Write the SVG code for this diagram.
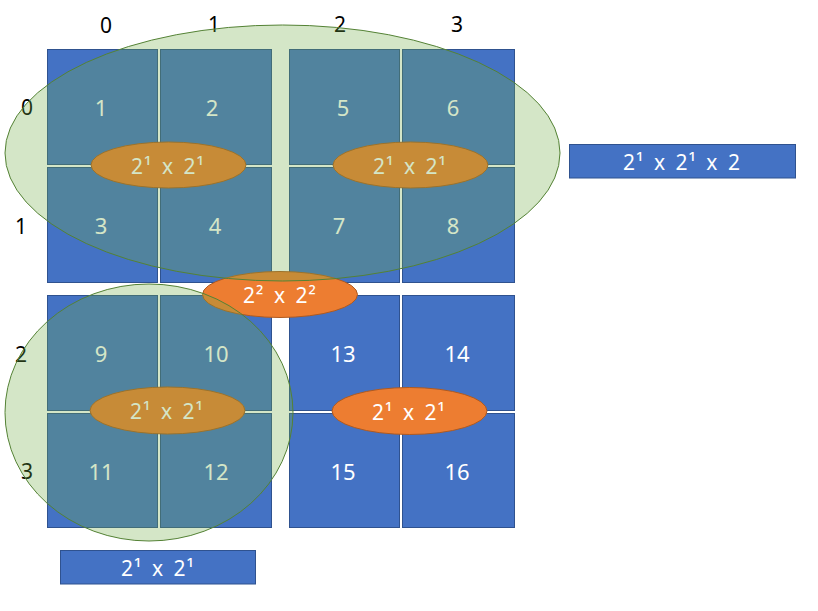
<svg xmlns="http://www.w3.org/2000/svg" width="818" height="611" viewBox="0 0 818 611">
<style>
.sq{fill:#4472C4;stroke:#2F528F;stroke-width:1}
.num{font-family:"Noto Sans","Liberation Sans",sans-serif;font-size:22px;fill:#FFFFFF;text-anchor:middle;dominant-baseline:central}
.ax{font-family:"Noto Sans","Liberation Sans",sans-serif;font-size:21px;fill:#000000;text-anchor:middle;dominant-baseline:central}
.org{fill:#ED7D31;stroke:#AE5A21;stroke-width:1}
.grn{fill:#70AD47;fill-opacity:0.3;stroke:#548235;stroke-width:1}
.lbl{font-family:"Noto Sans","Liberation Sans",sans-serif;font-size:21px;fill:#FFFFFF;text-anchor:middle;dominant-baseline:central;letter-spacing:1px;word-spacing:3px}
</style>
<rect width="818" height="611" fill="#FFFFFF"/>
<g id="axis-labels">
<text class="ax" x="106" y="25">0</text>
<text class="ax" x="214" y="24">1</text>
<text class="ax" x="340" y="24">2</text>
<text class="ax" x="457" y="24">3</text>
<text class="ax" x="27" y="107">0</text>
<text class="ax" x="21" y="226">1</text>
<text class="ax" x="21" y="354">2</text>
<text class="ax" x="27" y="471">3</text>
</g>
<g id="cells">
<g id="cell1"><rect class="sq" x="47.5" y="49.5" width="110" height="115"/><text class="num" x="101" y="107">1</text></g>
<g id="cell2"><rect class="sq" x="160.5" y="49.5" width="111" height="115"/><text class="num" x="212" y="107">2</text></g>
<g id="cell5"><rect class="sq" x="289.5" y="49.5" width="110" height="115"/><text class="num" x="343" y="107">5</text></g>
<g id="cell6"><rect class="sq" x="402.5" y="49.5" width="112" height="115"/><text class="num" x="453" y="107">6</text></g>
<g id="cell3"><rect class="sq" x="47.5" y="167.5" width="110" height="115"/><text class="num" x="101" y="225">3</text></g>
<g id="cell4"><rect class="sq" x="160.5" y="167.5" width="111" height="115"/><text class="num" x="215" y="225">4</text></g>
<g id="cell7"><rect class="sq" x="289.5" y="167.5" width="110" height="115"/><text class="num" x="339" y="225">7</text></g>
<g id="cell8"><rect class="sq" x="402.5" y="167.5" width="112" height="115"/><text class="num" x="453" y="225">8</text></g>
<g id="cell9"><rect class="sq" x="47.5" y="295.5" width="110" height="115"/><text class="num" x="101" y="353">9</text></g>
<g id="cell10"><rect class="sq" x="160.5" y="295.5" width="111" height="115"/><text class="num" x="216" y="353">10</text></g>
<g id="cell13"><rect class="sq" x="289.5" y="295.5" width="110" height="115"/><text class="num" x="343" y="353">13</text></g>
<g id="cell14"><rect class="sq" x="402.5" y="295.5" width="112" height="115"/><text class="num" x="457" y="353">14</text></g>
<g id="cell11"><rect class="sq" x="47.5" y="413.5" width="110" height="114"/><text class="num" x="101" y="471">11</text></g>
<g id="cell12"><rect class="sq" x="160.5" y="413.5" width="111" height="114"/><text class="num" x="216" y="471">12</text></g>
<g id="cell15"><rect class="sq" x="289.5" y="413.5" width="110" height="114"/><text class="num" x="343" y="471">15</text></g>
<g id="cell16"><rect class="sq" x="402.5" y="413.5" width="112" height="114"/><text class="num" x="457" y="471">16</text></g>
</g>
<g id="connectors"></g>
<g id="orange-groups">
<g id="o-tl"><ellipse class="org" cx="168.5" cy="165" rx="77.5" ry="23"/><text class="lbl" x="168" y="166">2¹ x 2¹</text></g>
<g id="o-tr"><ellipse class="org" cx="410.5" cy="165" rx="77.5" ry="23"/><text class="lbl" x="410" y="166">2¹ x 2¹</text></g>
<g id="o-mid"><ellipse class="org" cx="280" cy="294.5" rx="77.5" ry="23"/><text class="lbl" x="280" y="295">2² x 2²</text></g>
<g id="o-bl"><ellipse class="org" cx="167.5" cy="410.5" rx="77.5" ry="23.5"/><text class="lbl" x="167" y="411">2¹ x 2¹</text></g>
<g id="o-br"><ellipse class="org" cx="409.5" cy="411" rx="77.5" ry="23.5"/><text class="lbl" x="409" y="412">2¹ x 2¹</text></g>
</g>
<g id="green-groups">
<ellipse id="g-top" class="grn" cx="282.5" cy="153" rx="277.5" ry="128"/>
<ellipse id="g-bl" class="grn" cx="149" cy="412.5" rx="144" ry="128.5"/>
</g>
<g id="label-right"><rect class="sq" x="569.5" y="144.5" width="226" height="33.5"/><text class="lbl" x="682" y="162">2¹ x 2¹ x 2</text></g>
<g id="label-bottom"><rect class="sq" x="60.5" y="550.5" width="195" height="33.5"/><text class="lbl" x="158" y="568">2¹ x 2¹</text></g>
</svg>
